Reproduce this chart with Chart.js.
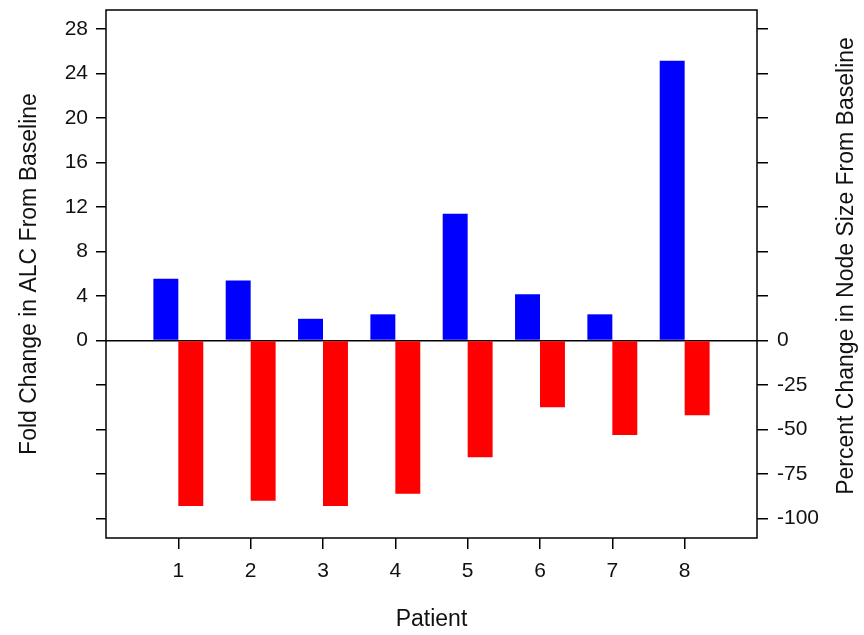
<!DOCTYPE html>
<html>
<head>
<meta charset="utf-8">
<script src="https://cdn.jsdelivr.net/npm/chart.js@4"></script>
<style>
  html,body{margin:0;padding:0;background:#fff;}
  #wrap{width:864px;height:635px;}
</style>
</head>
<body>
<div id="wrap"><canvas id="c" width="864" height="635"></canvas></div>
<script>
// values
const patients = ['1','2','3','4','5','6','7','8'];
const alcFold  = [5.55, 5.4, 1.95, 2.35, 11.4, 4.15, 2.35, 25.15];   // fold change in ALC (left axis)
const nodePct  = [-93, -90, -93, -86, -65.5, -37.5, -53, -42];        // % change in node size (right axis)
const leftTicks  = {min:-17.75, max:29.7, step:4};
const rightTicks = {min:-110.9, max:185.6, step:25};

const txt = '#111';
const FF = 'Arial, "Liberation Sans", sans-serif';

// pad with an empty slot each side so the axis runs 0..9
const labels = ['', ...patients, ''];
const pad = a => [null, ...a, null];

// frame + right-hand title (reads bottom to top, like the left one)
const frame = {
  id:'frame',
  afterDraw(ch){
    const {ctx, chartArea:a} = ch;
    ctx.save();
    ctx.strokeStyle = '#000'; ctx.lineWidth = 1.5;
    ctx.strokeRect(a.left, a.top, a.right-a.left, a.bottom-a.top);
    ctx.translate(847, 266);
    ctx.rotate(-Math.PI/2);
    ctx.fillStyle = txt; ctx.font = '23px '+FF;
    ctx.textAlign = 'center'; ctx.textBaseline = 'middle';
    ctx.fillText('Percent Change in Node Size From Baseline', 0, 0);
    ctx.restore();
  }
};

const noPad = s => { s.paddingTop = 0; s.paddingBottom = 0; s.paddingLeft = 0; s.paddingRight = 0; };

new Chart(document.getElementById('c'), {
  type:'bar',
  data:{labels, datasets:[
    {label:'ALC', data:pad(alcFold), backgroundColor:'#0000ff', yAxisID:'y'},
    {label:'Node', data:pad(nodePct), backgroundColor:'#ff0000', yAxisID:'y2'}
  ]},
  options:{
    responsive:false, animation:false,
    categoryPercentage:0.69, barPercentage:1,
    layout:{padding:{top:10,left:0,right:0,bottom:0}},
    plugins:{legend:{display:false}, tooltip:{enabled:false}},
    scales:{
      x:{
        offset:false,
        grid:{offset:false, drawOnChartArea:false, tickLength:11, lineWidth:1.5,
              tickColor:c=>(c.index===0||c.index===labels.length-1)?'rgba(0,0,0,0)':'#000'},
        border:{display:false},
        ticks:{color:txt, font:{size:21,family:FF}, padding:10, maxRotation:0, autoSkip:false},
        title:{display:true, text:'Patient', color:txt, font:{size:23,family:FF}, padding:{top:0,bottom:2}},
        afterFit:s=>{s.height=97; noPad(s);}
      },
      y:{
        position:'left', min:leftTicks.min, max:leftTicks.max,
        grid:{drawOnChartArea:true, tickLength:10, lineWidth:1.5, tickColor:'#000',
              color:c=>c.tick && c.tick.value===0 ? '#000' : 'rgba(0,0,0,0)'},
        border:{display:false},
        ticks:{stepSize:leftTicks.step, includeBounds:false, color:txt, font:{size:21,family:FF}, padding:8,
               callback:v=>v>=0?v:''},
        title:{display:true, text:'Fold Change in ALC From Baseline', color:txt, font:{size:23,family:FF}, padding:{top:16,bottom:0}},
        afterFit:s=>{s.width=106; noPad(s);}
      },
      y2:{
        position:'right', min:rightTicks.min, max:rightTicks.max,
        grid:{drawOnChartArea:false, tickLength:11, lineWidth:1.5, tickColor:'#000'},
        border:{display:false},
        ticks:{stepSize:rightTicks.step, includeBounds:false, color:txt, font:{size:21,family:FF}, padding:9,
               callback:v=>v<=0?v:''},
        afterFit:s=>{s.width=107; noPad(s);}
      }
    }
  },
  plugins:[frame]
});
</script>
</body>
</html>
